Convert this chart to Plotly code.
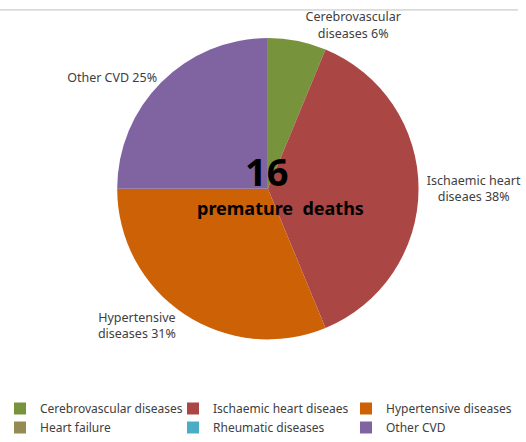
import plotly.graph_objects as go

categories = ["Cerebrovascular diseases", "Ischaemic heart diseaes", "Hypertensive diseases",
              "Heart failure", "Rheumatic diseases", "Other CVD"]
deaths = [1, 6, 5, 0, 0, 4]
slice_labels = ["Cerebrovascular<br>diseases 6%", "Ischaemic heart<br>diseaes 38%",
                "Hypertensive<br>diseases 31%", "", "", "Other CVD 25%"]
colors = ["#77933C", "#AA4643", "#CC6105", "#948A54", "#4BACC6", "#8064A2"]
total_deaths = 16

W, H = 526, 442
cx, cy, half = 272, 187, 153

fig = go.Figure(go.Pie(
    labels=categories,
    values=deaths,
    text=slice_labels,
    textinfo="text",
    textposition="outside",
    sort=False,
    direction="clockwise",
    rotation=0,
    marker=dict(colors=colors, line=dict(width=0)),
    outsidetextfont=dict(family="Noto Sans", size=12.5, color="#404040"),
    domain=dict(x=[(cx - half) / W, (cx + half) / W], y=[1 - (cy + half) / H, 1 - (cy - half) / H]),
    showlegend=True,
))

fig.add_annotation(x=271 / W, y=1 - 169 / H, xref="paper", yref="paper",
                   text=f"<b>{total_deaths}</b>", showarrow=False,
                   font=dict(family="Noto Sans", size=38, color="#000000"))
fig.add_annotation(x=285 / W, y=1 - 206 / H, xref="paper", yref="paper",
                   text="<b>premature  deaths</b>", showarrow=False,
                   font=dict(family="Noto Sans", size=18, color="#000000"))

fig.add_shape(type="line", xref="paper", yref="paper", x0=0, x1=1,
              y0=1 - 7 / H, y1=1 - 7 / H, line=dict(color="#BFBFBF", width=1))

fig.update_layout(
    width=W, height=H,
    margin=dict(l=0, r=0, t=0, b=0),
    paper_bgcolor="white",
    legend=dict(orientation="h", x=0, xanchor="left", y=0, yanchor="bottom",
                entrywidth=128, font=dict(family="Noto Sans", size=12, color="#404040"),
                traceorder="normal"),
)

fig.write_html("out.html", config={"displayModeBar": False},
               post_script="document.body.style.margin='0px';")
